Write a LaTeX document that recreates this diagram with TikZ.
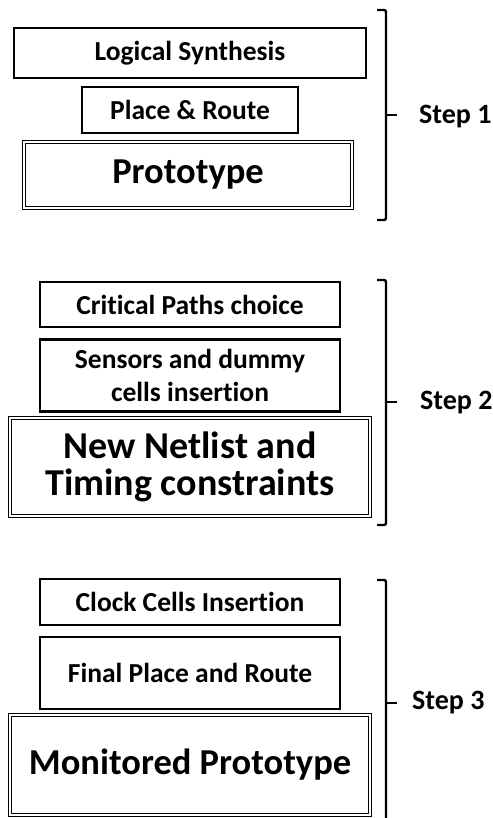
\documentclass[tikz,border=0pt]{standalone}
\usepackage{fontspec}
\setmainfont{Carlito}[Ligatures=NoCommon]
\begin{document}
\begin{tikzpicture}[x=1pt,y=-1pt,
  stage/.style={draw,line width=2.2pt,align=center,inner sep=0pt,font=\bfseries\fontsize{27.5}{33}\selectfont},
  result/.style={draw,line width=1pt,double,double distance=1.6pt,align=center,inner sep=0pt},
  brk/.style={line width=2.4pt,rounded corners=2pt},
  steplabel/.style={anchor=west,inner sep=0pt,font=\bfseries\fontsize{28}{32}\selectfont}]
\useasboundingbox (0,0) rectangle (492,818);

% Step 1
\node[stage,minimum width=352,minimum height=50] (ls) at (190,53) {Logical Synthesis};
\node[stage,minimum width=216,minimum height=46] (pr) at (190,110) {Place \& Route};
\node[result,minimum width=328,minimum height=66,font=\bfseries\fontsize{36.5}{40}\selectfont] (proto) at (188,175) {Prototype};

% Step 2
\node[stage,minimum width=300,minimum height=45] (cp) at (190,304.5) {Critical Paths choice};
\node[stage,minimum width=300,minimum height=72] (sd) at (190,375.5) {Sensors and dummy\\cells insertion};
\node[result,minimum width=360,minimum height=98,font=\bfseries\fontsize{38}{37}\selectfont] (nn) at (190,467) {New Netlist and\\Timing constraints};

% Step 3
\node[stage,minimum width=300,minimum height=46] (cc) at (190,602) {Clock Cells Insertion};
\node[stage,minimum width=300,minimum height=72] (fp) at (190,673) {Final Place and Route};
\node[result,minimum width=360,minimum height=100,font=\bfseries\fontsize{36.5}{40}\selectfont] (mp) at (190,765) {Monitored Prototype};

% brackets
\coordinate (b1t) at (377,10);  \coordinate (b1b) at (377,220); \coordinate (b1m) at (386,115);
\coordinate (b2t) at (377,280); \coordinate (b2b) at (377,525); \coordinate (b2m) at (386,402);
\coordinate (b3t) at (377,580); \coordinate (b3b) at (386,840); \coordinate (b3m) at (386,703);

\draw[brk] (b1t) -- (386,10) -- (386,220) -- (b1b);
\draw[brk] (b1m) -- ++(11,0);
\draw[brk] (b2t) -- (386,280) -- (386,525) -- (b2b);
\draw[brk] (b2m) -- ++(11,0);
\draw[brk] (b3t) -- (386,580) -- (b3b);
\draw[brk] (b3m) -- ++(11,0);

\node[steplabel] (s1) at (419,117) {Step 1};
\node[steplabel] (s2) at (420,403) {Step 2};
\node[steplabel] (s3) at (412,703) {Step 3};
\end{tikzpicture}
\end{document}
